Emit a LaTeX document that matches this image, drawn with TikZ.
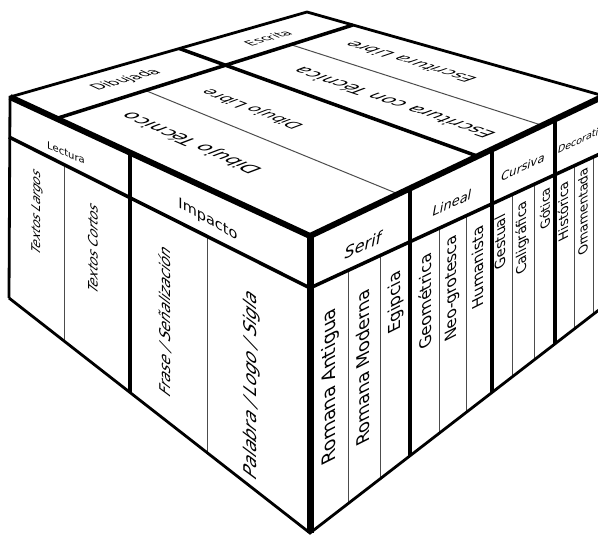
\documentclass[tikz,border=0pt]{standalone}
\usepackage{fontspec}
\setmainfont{DejaVu Sans}
\usetikzlibrary{calc}
\newcommand{\fsz}[1]{\fontsize{#1}{#1}\selectfont}
\begin{document}
\begin{tikzpicture}[x=1pt,y=-1pt, line join=miter,
  edgeT/.style={line width=6pt},
  edgeM/.style={line width=3.5pt},
  edgeO/.style={line width=2.8pt},
  edgeS/.style={line width=1pt, black!70},
  lab/.style={inner sep=0pt, outer sep=0pt},
  topA/.style={lab, cm={0.9615,0.2752,-0.907,0.420,(0,0)}},
  leftC/.style={lab, cm={0,1,-1,0.55,(0,0)}, font=\itshape},
  rightH/.style={lab, cm={1,0.46,0,1,(0,0)}, font=\itshape},
  rightC/.style={lab, cm={0,1,-1,-0.5,(0,0)}},
]
\useasboundingbox (0,0) rectangle (598,536);
\clip (0,0) rectangle (598,536);

% corners
\coordinate (L) at (10,97);
\coordinate (B) at (307,12);
\coordinate (R) at (604,96);
\coordinate (F) at (310,236);
\coordinate (LB) at (9,298);
\coordinate (FB) at (310,533);
\coordinate (RB) at (604,306);
\coordinate (LH) at (9,137);
\coordinate (FH) at (310,288);
\coordinate (RH) at (604,152);

% ---- thin lines
\draw[edgeS] (145.5,90.5) -- (398.2,194);
\draw[edgeS] (290.7,44.6) -- (542.3,125.4);
\draw[edgeS] (64,164.6) -- (64,340.9);
\draw[edgeS] (207,236.3) -- (207,452.6);
\draw[edgeS] (348,270.4) -- (348,503.7);
\draw[edgeS] (380,255.7) -- (380,479);
\draw[edgeS] (439,228.4) -- (439,433.4);
\draw[edgeS] (466,215.9) -- (466,412.6);
\draw[edgeS] (512,194.7) -- (512,377.1);
\draw[edgeS] (534,184.5) -- (534,360.1);
\draw[edgeS] (574,166) -- (574,329.2);
\draw[edgeS] (593,157.3) -- (593,314.5);

% ---- medium lines
\draw[edgeM] (56.5,118.5) -- (353,25);
\draw[edgeM] (179.3,48.5) -- (225.5,65.2);
\draw[edgeM] (225.5,65.2) -- (477.6,156.2);
\draw[edgeM] (LH) -- (FH) -- (RH);
\draw[edgeM] (130,152.6) -- (130,392.5);
\draw[edgeM] (410,188.4) -- (410,455.8);
\draw[edgeM] (492,149.4) -- (492,392.5);
\draw[edgeM] (555,119.4) -- (555,343.9);

% ---- outline
\draw[edgeO] (LB) -- (L) -- (B) -- (R);
\draw[edgeO] (LB) -- (FB) -- (RB);
\draw[edgeT] (L) -- (F) -- (R);
\draw[line width=7pt] (F) -- (FB);

% ---- top face labels
\node[topA] (dibujada) at (126,80) {\fsz{15}Dibujada};
\node[topA] (escrita) at (268,38) {\fsz{13}Escrita};
\node[lab, cm={-0.917,0.400,-0.935,-0.354,(0,0)}] (dtec) at (192,143) {\fsz{20}Dibujo Técnico};
\node[lab, cm={-0.933,0.359,-0.935,-0.354,(0,0)}] (dlib) at (253,109) {\fsz{17}Dibujo Libre};
\node[lab, cm={-0.947,0.322,-0.935,-0.354,(0,0)}] (etec) at (393,103) {\fsz{19.5}Escritura con Técnica};
\node[lab, cm={-0.958,0.287,-0.945,-0.325,(0,0)}] (elib) at (410,62) {\fsz{18}Escritura Libre};

% ---- left face labels
\node[lab, cm={1,-0.42,0,1,(0,0)}] (lectura) at (66,153) {\fsz{10}Lectura};
\node[lab, cm={1,-0.55,0,1,(0,0)}] (impacto) at (208,220) {\fsz{14.5}Impacto};
\node[leftC] (tlargos) at (37,212) {\fsz{12}Textos Largos};
\node[leftC] (tcortos) at (93,248) {\fsz{13}Textos Cortos};
\node[leftC] (frase) at (165,321) {\fsz{14.8}Frase / Señalización};
\node[leftC] (palabra) at (252,385) {\fsz{17.5}Palabra / Logo / Sigla};

% ---- right face labels
\node[rightH] (serif) at (363,245) {\fsz{16}Serif};
\node[rightH] (lineal) at (452,203) {\fsz{13}Lineal};
\node[rightH] (cursiva) at (523,167) {\fsz{11.5}Cursiva};
\node[rightH, anchor=west] (decor) at (558,150) {\fsz{9.5}Decorativa};

\node[rightC] (rant) at (330,386) {\fsz{18.5}Romana Antigua};
\node[rightC] (rmod) at (363,368) {\fsz{17.5}Romana Moderna};
\node[rightC] (egip) at (396,302) {\fsz{16.5}Egipcia};
\node[rightC] (geom) at (425,302) {\fsz{16}Geométrica};
\node[rightC] (neog) at (452,288) {\fsz{15.5}Neo-grotesca};
\node[rightC] (huma) at (478,268) {\fsz{15}Humanista};
\node[rightC] (gest) at (500,242) {\fsz{14}Gestual};
\node[rightC] (cali) at (523,238) {\fsz{13.5}Caligráfica};
\node[rightC] (goti) at (545,209) {\fsz{12.5}Gótica};
\node[rightC] (hist) at (563,212) {\fsz{13}Histórica};
\node[rightC] (orna) at (583,212) {\fsz{12.5}Ornamentada};
\end{tikzpicture}
\end{document}
